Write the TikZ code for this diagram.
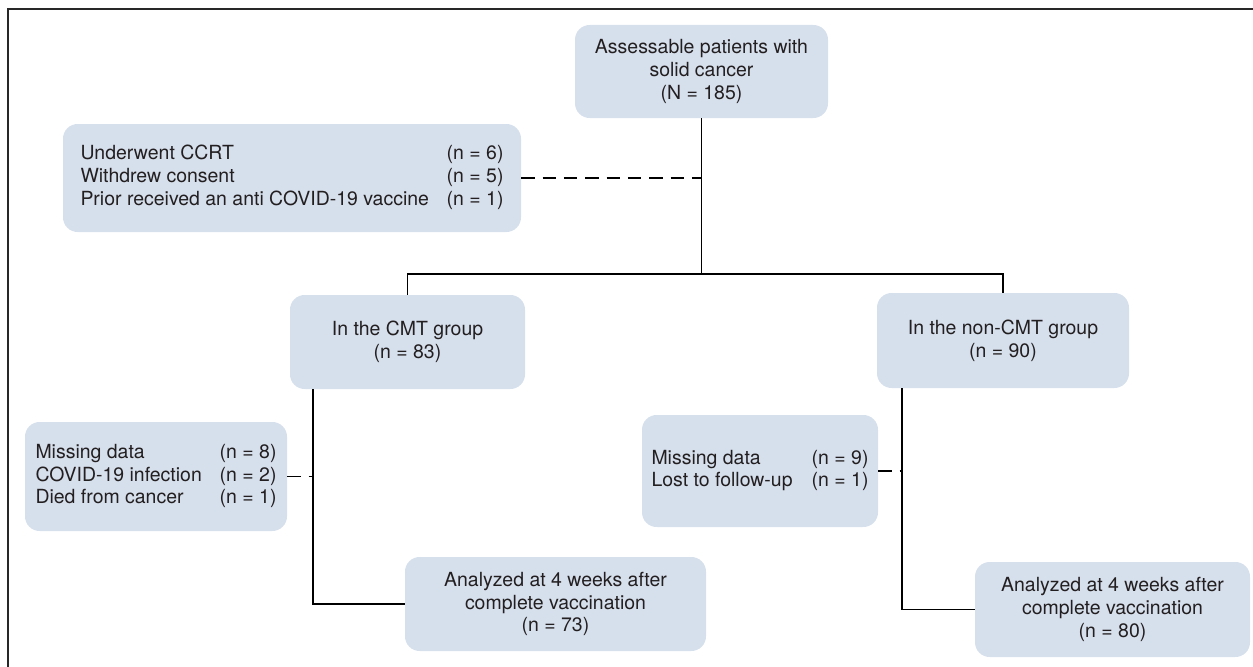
\documentclass[tikz,border=0pt]{standalone}
\usepackage{fontspec}
\setmainfont{TeX Gyre Heros}
\usetikzlibrary{calc}
\definecolor{boxfill}{RGB}{214,223,236}
\definecolor{txtcol}{RGB}{35,31,32}

\begin{document}
\begin{tikzpicture}[x=0.75pt,y=0.75pt,yscale=-1,xscale=1,
    box/.style={fill=boxfill, rounded corners=11pt, inner sep=0pt, align=center, text=txtcol, font=\fontsize{14.6}{17}\selectfont},
    link/.style={draw=black, line width=1.35pt},
    dashline/.style={link, dash pattern=on 10pt off 6pt}]
\useasboundingbox (0,0) rectangle (1253,667);
% Frame
\draw [line width=1.3pt, color={rgb, 255:red, 40; green, 40; blue, 40 }] (8,667) -- (8,9) -- (1253,9) ;

% Boxes
\node [box, minimum width=189.75pt, minimum height=69.75pt] (assess) at (701.5,71.5) {Assessable patients with\\solid cancer\\(N = 185)};
\node [box, minimum width=343.5pt, minimum height=81pt] (excluded) at (292,178) {\begin{tabular*}{317.25pt}{@{}l@{\extracolsep{\fill}}r@{}}
Underwent CCRT & (n = 6)\\
Withdrew consent & (n = 5)\\
Prior received an anti COVID-19 vaccine & (n = 1)
\end{tabular*}};
\node [box, minimum width=176.25pt, minimum height=70.5pt] (cmtgroup) at (407.5,342) {In the CMT group\\(n = 83)};
\node [box, minimum width=189pt, minimum height=71.25pt] (noncmtgroup) at (1003,340.5) {In the non-CMT group\\(n = 90)};
\node [box, minimum width=196.5pt, minimum height=81.75pt] (cmtlost) at (156,476.5) {\begin{tabular*}{180.75pt}{@{}l@{\extracolsep{\fill}}r@{}}
Missing data & (n = 8)\\
COVID-19 infection & (n = 2)\\
Died from cancer & (n = 1)
\end{tabular*}};
\node [box, minimum width=177pt, minimum height=84pt] (noncmtlost) at (760,471) {\begin{tabular*}{162.75pt}{@{}l@{\extracolsep{\fill}}r@{}}
Missing data & (n = 9)\\
Lost to follow-up & (n = 1)
\end{tabular*}};
\node [box, minimum width=225.75pt, minimum height=70.5pt] (cmtanalyzed) at (555.5,604) {Analyzed at 4 weeks after\\complete vaccination\\(n = 73)};
\node [box, minimum width=206.25pt, minimum height=71.25pt] (noncmtanalyzed) at (1112.5,609.5) {Analyzed at 4 weeks after\\complete vaccination\\(n = 80)};

% Connectors
\coordinate (split) at (701.5,274);
\coordinate (cmtleg) at ($(cmtgroup.south west)!0.1!(cmtgroup.south east)$);
\coordinate (noncmtleg) at ($(noncmtgroup.south west)!0.1!(noncmtgroup.south east)$);
\draw [link] (assess.south) -- (split) ;
\draw [link] (cmtgroup.north) |- (split) -| (noncmtgroup.north) ;
\draw [dashline] (excluded.east) -- (excluded.east -| split) ;
\draw [link] (cmtleg) |- (cmtanalyzed.west) ;
\draw [dashline] (cmtlost.east) -- (cmtlost.east -| cmtleg) ;
\draw [link] (noncmtleg) |- (noncmtanalyzed.west) ;
\draw [dashline] (noncmtlost.east) -- (noncmtlost.east -| noncmtleg) ;
\end{tikzpicture}
\end{document}
